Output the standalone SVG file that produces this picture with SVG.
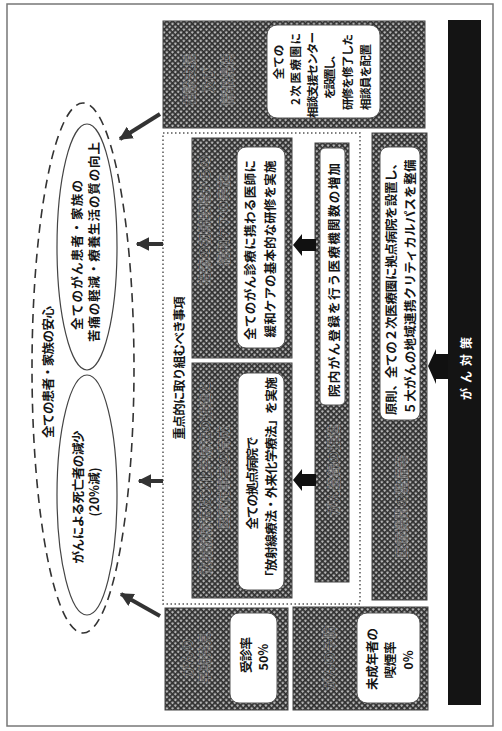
<svg xmlns="http://www.w3.org/2000/svg" width="502" height="731" viewBox="0 0 502 731">
<defs>
<pattern id="hatch" patternUnits="userSpaceOnUse" width="4" height="4" patternTransform="rotate(45)">
<rect width="4" height="4" fill="#b4b4b4"/>
<rect width="4" height="1.7" fill="#2f2f2f"/>
<rect width="1.7" height="4" fill="#2f2f2f"/>
</pattern>
<marker id="ah" viewBox="0 0 10 10" refX="9" refY="5" markerWidth="3.4" markerHeight="3.4" orient="auto" markerUnits="strokeWidth">
<path d="M0,0 L10,5 L0,10 z" fill="#333"/>
</marker>
<style>
.hb{fill:url(#hatch);stroke:#444;stroke-width:1}
.wb{fill:#fff;stroke:#555;stroke-width:1}
.t{font-family:"Noto Sans CJK JP","Noto Sans",sans-serif;font-weight:700;font-size:12.5px;fill:#151515;text-anchor:middle;dominant-baseline:central}
.s{font-size:11.5px}
.h{font-family:"Noto Sans CJK JP","Noto Sans",sans-serif;font-weight:700;font-size:13px;fill:#222;fill-opacity:.5;stroke:#ccc;stroke-width:.6;stroke-opacity:.5;text-anchor:middle;dominant-baseline:central}
.con{stroke:#333;stroke-width:4;fill:none;marker-end:url(#ah)}
.blk{fill:#111}
</style>
</defs>
<rect width="502" height="731" fill="#fff"/>
<rect x="7" y="4" width="486" height="722" fill="none" stroke="#777" stroke-width="1.5"/>

<g id="goal">
<ellipse cx="83" cy="368" rx="51" ry="265" fill="none" stroke="#333" stroke-width="1.6" stroke-dasharray="9 6"/>
<text class="t" transform="translate(47,372) rotate(-90)" textLength="132">全ての患者・家族の安心</text>
</g>
<g id="goal-qol">
<ellipse cx="87" cy="247" rx="30" ry="123" fill="none" stroke="#444" stroke-width="1.2"/>
<text class="t" transform="translate(76,255) rotate(-90)" textLength="150">全てのがん患者・家族の</text>
<text class="t" transform="translate(93,242) rotate(-90)" textLength="200">苦痛の軽減・療養生活の質の向上</text>
</g>
<g id="goal-death">
<ellipse cx="87" cy="495" rx="30" ry="120" fill="none" stroke="#444" stroke-width="1.2"/>
<text class="t" transform="translate(77,497) rotate(-90)" textLength="133">がんによる死亡者の減少</text>
<text class="t" transform="translate(93,492) rotate(-90)">(20%減)</text>
</g>

<g id="priority">
<rect x="163" y="133" width="197" height="471" fill="none" stroke="#555" stroke-width="1.5" stroke-dasharray="1.5 2.5"/>
<text class="t" transform="translate(178,368) rotate(-90)" textLength="143">重点的に取り組むべき事項</text>
</g>

<g id="box-consult">
<rect class="hb" x="163" y="21" width="262" height="107"/>
<text class="h" transform="translate(188,80) rotate(-90)">相談支援</text>
<text class="h" transform="translate(207,80) rotate(-90)">及び</text>
<text class="h" transform="translate(226,80) rotate(-90)">情報提供</text>
<rect class="wb" x="267" y="25" width="113" height="93" rx="10"/>
<text class="t s" transform="translate(278,62) rotate(-90)">全ての</text>
<text class="t s" transform="translate(295,69) rotate(-90)" textLength="72">2次医療圏に</text>
<text class="t s" transform="translate(312,75) rotate(-90)" textLength="86">相談支援センター</text>
<text class="t s" transform="translate(329,74) rotate(-90)" textLength="50">を設置し、</text>
<text class="t s" transform="translate(347,72) rotate(-90)" textLength="76">研修を修了した</text>
<text class="t s" transform="translate(365,77) rotate(-90)" textLength="66">相談員を配置</text>
</g>

<g id="box-palliative">
<rect class="hb" x="192" y="138" width="100" height="220"/>
<text class="h" transform="translate(203,220) rotate(-90)">治療の初期段階からの</text>
<text class="h" transform="translate(222,220) rotate(-90)">緩和ケアの実施</text>
<rect class="wb" x="237" y="147" width="48" height="201" rx="9"/>
<text class="t" transform="translate(249,250) rotate(-90)" textLength="180">全てのがん診療に携わる医師に</text>
<text class="t" transform="translate(269,249) rotate(-90)" textLength="177">緩和ケアの基本的な研修を実施</text>
</g>

<g id="box-radiation">
<rect class="hb" x="192" y="363" width="100" height="235"/>
<text class="h" transform="translate(204,478) rotate(-90)">放射線療法及び化学療法の推進と</text>
<text class="h" transform="translate(222,478) rotate(-90)">医療従事者の育成</text>
<rect class="wb" x="238" y="373" width="46" height="217" rx="9"/>
<text class="t" transform="translate(251,483) rotate(-90)" textLength="93">全ての拠点病院で</text>
<text class="t" transform="translate(270,480) rotate(-90)" textLength="206">「放射線療法・外来化学療法」を実施</text>
</g>

<g id="box-registry">
<rect class="hb" x="315" y="143" width="34" height="439"/>
<rect class="wb" x="320" y="148" width="25" height="257" rx="5"/>
<text class="t" transform="translate(333,280) rotate(-90)" textLength="234">院内がん登録を行う医療機関数の増加</text>
<text class="h" transform="translate(332,470) rotate(-90)">がん登録の推進</text>
</g>

<g id="box-hospital">
<rect class="hb" x="372" y="133" width="55" height="467"/>
<rect class="wb" x="380" y="147" width="40" height="273" rx="8"/>
<text class="t" transform="translate(390,286) rotate(-90)" textLength="258">原則、全ての２次医療圏に拠点病院を設置し、</text>
<text class="t" transform="translate(409,287) rotate(-90)" textLength="255">５大がんの地域連携クリティカルパスを整備</text>
<text class="h" transform="translate(400,507) rotate(-90)">医療機関の整備等</text>
</g>

<g id="box-screening">
<rect class="hb" x="165" y="608" width="123" height="102"/>
<text class="h" transform="translate(186,658) rotate(-90)">がんの</text>
<text class="h" transform="translate(203,658) rotate(-90)">早期発見</text>
<rect class="wb" x="230" y="613" width="47" height="90" rx="9"/>
<text class="t" transform="translate(245,655) rotate(-90)" textLength="36">受診率</text>
<text class="t" transform="translate(262,657) rotate(-90)">50%</text>
</g>

<g id="box-prevention">
<rect class="hb" x="293" y="607" width="135" height="103"/>
<text class="h" transform="translate(328,658) rotate(-90)">がんの予防</text>
<rect class="wb" x="357" y="613" width="63" height="90" rx="10"/>
<text class="t" transform="translate(371,659) rotate(-90)" textLength="62">未成年者の</text>
<text class="t" transform="translate(389,660) rotate(-90)" textLength="37">喫煙率</text>
<text class="t" transform="translate(407,660) rotate(-90)">0%</text>
</g>

<g id="bar">
<rect x="448" y="20" width="33" height="685" fill="#141414"/>
<text class="t" transform="translate(465,366) rotate(-90)" style="fill:#fff;font-size:12px;letter-spacing:5px">がん対策</text>
</g>

<g id="connectors">
<line class="con" x1="160" y1="114" x2="120" y2="139"/>
<line class="con" x1="163" y1="244" x2="137" y2="244"/>
<line class="con" x1="163" y1="481" x2="139" y2="481"/>
<line class="con" x1="160" y1="616" x2="121" y2="594"/>
<path class="blk" d="M293,245 L302,234 L302,239 L316,239 L316,251 L302,251 L302,256 Z"/>
<path class="blk" d="M293,480 L302,469 L302,474 L316,474 L316,486 L302,486 L302,491 Z"/>
<path class="blk" d="M428,366 L436,349 L436,354 L448,354 L448,379 L436,379 L436,384 Z"/>
</g>
</svg>
